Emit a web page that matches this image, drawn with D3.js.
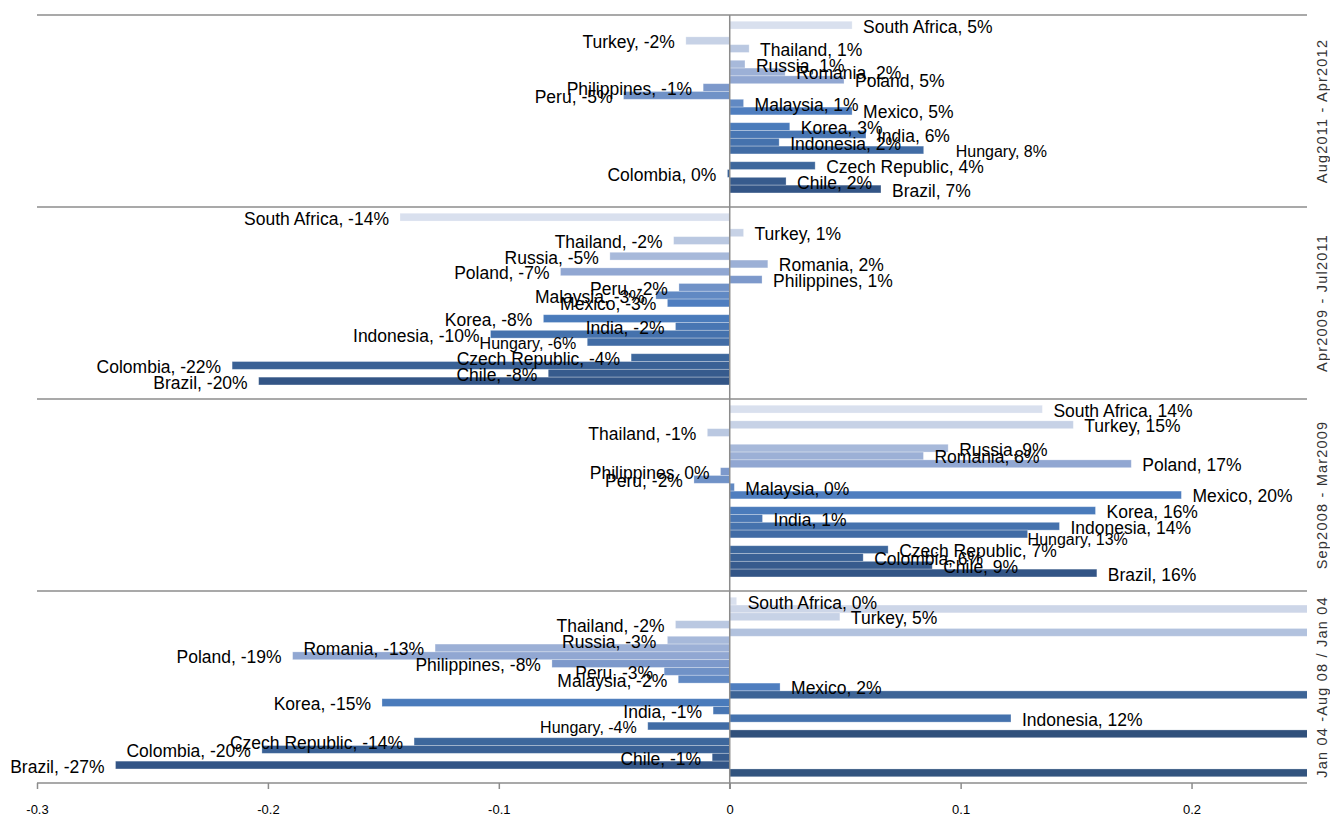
<!DOCTYPE html>
<html>
<head>
<meta charset="utf-8">
<script src="https://cdn.jsdelivr.net/npm/d3@7"></script>
<style>
  html, body { margin: 0; padding: 0; background: #fff; }
  svg { display: block; }
</style>
</head>
<body>
<svg id="chart" width="1330" height="816"></svg>
<script>
// ---------- DATA ----------
// Periods (panels), top to bottom
const periods = ["Aug2011 - Apr2012", "Apr2009 - Jul2011", "Sep2008 - Mar2009", "Jan 04 -Aug 08 / Jan 04"];

// Series in slot order, top to bottom within a panel (unlabelled series have blank names)
const series = ["South Africa", "", "Turkey", "Thailand", " ", "Russia", "Romania", "Poland",
  "Philippines", "Peru", "Malaysia", "Mexico", "  ", "Korea", "India", "Indonesia", "Hungary",
  "   ", "Czech Republic", "Colombia", "Chile", "Brazil", "    "];

const seriesColors = ["#d9e0ee", "#cdd6e8", "#c7d2e6", "#bac8e1", "#b2c2de", "#a7b9da", "#9cb0d6", "#91a7d2",
  "#7d99cb", "#7092c7", "#6189c3", "#4f7ebf", "#3d6496", "#4a7bbb", "#4876b3", "#4572ad", "#416ca5",
  "#30507b", "#3d679c", "#3a6195", "#375b8d", "#335586", "#32547f"];

const valuesAug11Apr12 = [0.053, null, -0.019, 0.0084, null, 0.0066, 0.024, 0.0495,
  -0.0115, -0.046, 0.006, 0.053, null, 0.026, 0.059, 0.0214, 0.084,
  null, 0.037, -0.001, 0.0244, 0.0655, null];

const valuesApr09Jul11 = [-0.1428, null, 0.006, -0.0243, null, -0.0519, 0.0165, -0.0733,
  0.014, -0.022, -0.032, -0.027, null, -0.0807, -0.0235, -0.1036, -0.0617,
  null, -0.0427, -0.2155, -0.0786, -0.204, null];

const valuesSep08Mar09 = [0.1354, null, 0.1488, -0.0097, null, 0.0946, 0.0839, 0.1739,
  -0.004, -0.0155, 0.002, 0.1956, null, 0.1584, 0.0142, 0.1428, 0.129,
  null, 0.0686, 0.0578, 0.0877, 0.159, null];

const valuesJan04Aug08 = [0.003, 0.32, 0.0477, -0.0235, 0.32, -0.027, -0.1276, -0.1893,
  -0.077, -0.0284, -0.0223, 0.0218, 0.32, -0.1506, -0.0072, 0.1218, -0.0355,
  0.32, -0.1367, -0.2026, -0.0076, -0.266, 0.32];

const periodValues = [valuesAug11Apr12, valuesApr09Jul11, valuesSep08Mar09, valuesJan04Aug08];

const xTicks = [-0.3, -0.2, -0.1, 0, 0.1, 0.2];
const xTickLabels = ["-0.3", "-0.2", "-0.1", "0", "0.1", "0.2"];

// ---------- LAYOUT ----------
const svg = d3.select("#chart");
const plotLeft = 37, plotRight = 1307, plotTop = 15, panelH = 192;
const labelFont = "'Liberation Sans', Arial, sans-serif";

const x = d3.scaleLinear().domain([-0.3, 0.25]).range([plotLeft, plotRight]);
const yPanel = d3.scaleBand().domain(periods).range([plotTop, plotTop + panelH * periods.length]);
const ySlot = d3.scaleBand().domain(d3.range(series.length)).range([0, panelH])
  .paddingOuter(0.8).paddingInner(0);

svg.append("defs").append("clipPath").attr("id", "plotClip")
  .append("rect").attr("x", plotLeft).attr("y", plotTop).attr("width", plotRight - plotLeft)
  .attr("height", panelH * periods.length);

// label nudges (manually moved labels in the original)
const nudge = { "0|Hungary": { dx: 21, dy: 0 }, "2|Hungary": { dx: -11, dy: 4 } };

const fmt = v => {
  let r = Math.round(v * 100);
  if (Object.is(r, -0)) r = 0;
  return r + "%";
};

// bars
const barsG = svg.append("g").attr("clip-path", "url(#plotClip)");
periods.forEach((p, pi) => {
  const y0 = yPanel(p);
  periodValues[pi].forEach((v, si) => {
    if (v === null) return;
    const x0 = x(0), x1 = x(v);
    barsG.append("rect")
      .attr("x", Math.min(x0, x1))
      .attr("y", y0 + ySlot(si))
      .attr("width", Math.abs(x1 - x0))
      .attr("height", ySlot.bandwidth())
      .attr("fill", seriesColors[si])
      .attr("stroke", "rgba(255,255,255,0.35)")
      .attr("stroke-width", 0.8);
  });
});

// panel separator lines
const sepLines = d3.range(periods.length + 1).map(i => plotTop + i * panelH);
svg.append("g").selectAll("line").data(sepLines).join("line")
  .attr("x1", plotLeft).attr("x2", plotRight)
  .attr("y1", d => d).attr("y2", d => d)
  .attr("stroke", "#8c8c8c").attr("stroke-width", 1.5);

// x axis
const axisY = plotTop + panelH * periods.length;
const xAxis = d3.axisBottom(x).tickValues(xTicks)
  .tickFormat((d, i) => xTickLabels[i]).tickSize(6).tickSizeOuter(0);
const axG = svg.append("g").attr("transform", `translate(0,${axisY})`).call(xAxis);
axG.attr("font-size", 13).attr("font-family", labelFont);
axG.select(".domain").remove();
axG.selectAll(".tick line").attr("stroke", "#8c8c8c").attr("stroke-width", 1.5);
axG.selectAll(".tick text").style("font-size", "13px").style("font-family", labelFont)
  .attr("fill", "#000").attr("y", 22).attr("dy", "0.71em");

// vertical zero (category) axis
svg.append("line").attr("x1", x(0)).attr("x2", x(0))
  .attr("y1", plotTop).attr("y2", axisY + 6)
  .attr("stroke", "#8c8c8c").attr("stroke-width", 1.5);

// data labels
const labelsG = svg.append("g").attr("font-family", labelFont).attr("fill", "#000");
periods.forEach((p, pi) => {
  const y0 = yPanel(p);
  periodValues[pi].forEach((v, si) => {
    const name = series[si];
    if (v === null || name.trim() === "") return;
    const n = nudge[pi + "|" + name] || { dx: 0, dy: 0 };
    const small = name === "Hungary";
    const fs = small ? 16 : 17.5;
    const cy = y0 + ySlot(si) + ySlot.bandwidth() / 2;
    const pos = v >= 0;
    labelsG.append("text")
      .attr("x", x(v) + (pos ? 11 : -11) + n.dx)
      .attr("y", cy + fs * 0.37 + 1 + n.dy)
      .attr("text-anchor", pos ? "start" : "end")
      .attr("font-size", fs)
      .text(name + ", " + fmt(v));
  });
});

// panel (category) labels on the right
svg.append("g").selectAll("text").data(periods).join("text")
  .attr("transform", d => `translate(1327,${yPanel(d) + panelH / 2}) rotate(-90)`)
  .attr("text-anchor", "middle")
  .attr("font-family", labelFont)
  .attr("font-size", 14.5)
  .attr("letter-spacing", 1.2)
  .attr("fill", "#333")
  .text(d => d);
</script>
</body>
</html>
